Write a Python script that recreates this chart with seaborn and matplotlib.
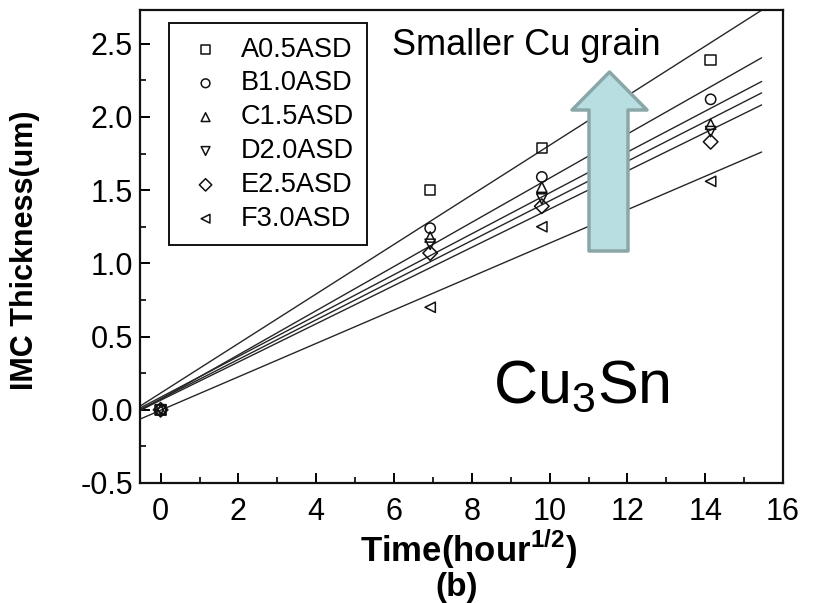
import numpy as np
import pandas as pd
import seaborn as sns
import matplotlib
matplotlib.use("Agg")
import matplotlib.pyplot as plt
from matplotlib.patches import Polygon
from matplotlib.ticker import MultipleLocator

# ---- data ----
time_sqrt = [0.0, 6.93, 9.80, 14.14]
series_names = ["A0.5ASD", "B1.0ASD", "C1.5ASD", "D2.0ASD", "E2.5ASD", "F3.0ASD"]
thick_A = [0.0, 1.50, 1.79, 2.39]
thick_B = [0.0, 1.24, 1.59, 2.12]
thick_C = [0.0, 1.18, 1.52, 1.95]
thick_D = [0.0, 1.13, 1.44, 1.90]
thick_E = [0.0, 1.07, 1.39, 1.83]
thick_F = [0.0, 0.70, 1.25, 1.56]
markers = ["s", "o", "^", "v", "D", "<"]
x_ticks = [0, 2, 4, 6, 8, 10, 12, 14, 16]
y_ticks = [-0.5, 0.0, 0.5, 1.0, 1.5, 2.0, 2.5]

all_thick = [thick_A, thick_B, thick_C, thick_D, thick_E, thick_F]
rows = []
for name, vals in zip(series_names, all_thick):
    for t, v in zip(time_sqrt, vals):
        rows.append({"series": name, "time": t, "thick": v})
df = pd.DataFrame(rows)

sns.set_theme(style="ticks")
plt.rcParams["font.family"] = ["Liberation Sans", "DejaVu Sans"]
plt.rcParams["mathtext.fontset"] = "custom"
plt.rcParams["mathtext.rm"] = "Liberation Sans"
plt.rcParams["mathtext.bf"] = "Liberation Sans:bold"
plt.rcParams["text.color"] = "black"
plt.rcParams["axes.labelcolor"] = "black"

fig = plt.figure(figsize=(8.18, 6.03), dpi=100)
L, R, T, B = 140, 783, 10, 483
ax = fig.add_axes([L / 818, 1 - B / 603, (R - L) / 818, (B - T) / 603])

ax.set_xlim(-0.53, 16.0)
ax.set_ylim(-0.5, 2.73)

# regression lines
x_fit = np.array([-0.53, 15.45])
for name, vals in zip(series_names, all_thick):
    k, b0 = np.polyfit(time_sqrt, vals, 1)
    fit_df = pd.DataFrame({"x": x_fit, "y": k * x_fit + b0})
    sns.lineplot(data=fit_df, x="x", y="y", ax=ax, color="#262626", lw=1.0,
                 legend=False, zorder=2)

for name, m in zip(series_names, markers):
    sub = df[df["series"] == name]
    sns.scatterplot(data=sub, x="time", y="thick", ax=ax, marker=m, s=55,
                    facecolor="none", edgecolor="#111111", linewidth=1.1,
                    label=name, zorder=3)

ax.set_xticks(x_ticks)
ax.set_yticks(y_ticks)
ax.xaxis.set_minor_locator(MultipleLocator(1))
ax.yaxis.set_minor_locator(MultipleLocator(0.25))
ax.set_xticklabels([str(v) for v in x_ticks])
ax.set_yticklabels([f"{v:.1f}" for v in y_ticks])
ax.set_xlim(-0.53, 16.0)
ax.set_ylim(-0.5, 2.73)
ax.tick_params(which="major", direction="in", length=7, width=1.4,
               labelsize=22, colors="black", top=False, right=False)
ax.tick_params(axis="x", which="major", pad=10)
ax.tick_params(axis="y", which="major", pad=5)
ax.tick_params(which="minor", direction="in", length=4, width=1.4,
               top=False, right=False)
for sp in ax.spines.values():
    sp.set_linewidth(1.6)
    sp.set_color("#111111")
    sp.set_visible(True)

ax.set_xlabel("")
ax.set_ylabel("IMC Thickness(um)", fontsize=22, fontweight="bold", color="black")
ax.yaxis.set_label_coords((40 - L) / (R - L), (B - 250) / (B - T))

fig.text(468 / 818, 1 - 562 / 603, r"Time(hour$^{\mathbf{1/2}}$)",
         fontsize=25, fontweight="bold", ha="center", va="baseline", color="black")
fig.text(457 / 818, 1 - 596 / 603, "(b)", fontsize=24, fontweight="bold",
         ha="center", va="baseline", color="black")

leg = ax.legend(loc="upper left", bbox_to_anchor=(29 / 643, (B - 23) / 473),
                borderaxespad=0, fontsize=19.5, frameon=True, fancybox=False,
                framealpha=1, edgecolor="#111111", labelspacing=0.29,
                handletextpad=0.44, borderpad=0.5, handlelength=1.7,
                markerscale=0.85)
leg.get_frame().set_linewidth(1.4)
for t in leg.get_texts():
    t.set_color("black")

def fx(px):
    return (px - L) / (R - L)

def fy(py):
    return (B - py) / (B - T)

ax.text(fx(392), fy(55), "Smaller Cu grain", fontsize=26, transform=ax.transAxes,
        ha="left", va="baseline", color="black")
ax.text(fx(493), fy(403), r"Cu$_\mathregular{3}$Sn", fontsize=44,
        transform=ax.transAxes, ha="left", va="baseline", color="black")

arrow_px = [(589, 251), (628, 251), (628, 110), (647, 110), (609.5, 72),
            (572, 110), (589, 110)]
poly = Polygon([(fx(x), fy(y)) for x, y in arrow_px], closed=True,
               transform=ax.transAxes, facecolor="#B9DEE1", edgecolor="#8AA7A8",
               linewidth=2.5, joinstyle="round", zorder=5)
ax.add_patch(poly)

fig.savefig("out.png", dpi=100)
